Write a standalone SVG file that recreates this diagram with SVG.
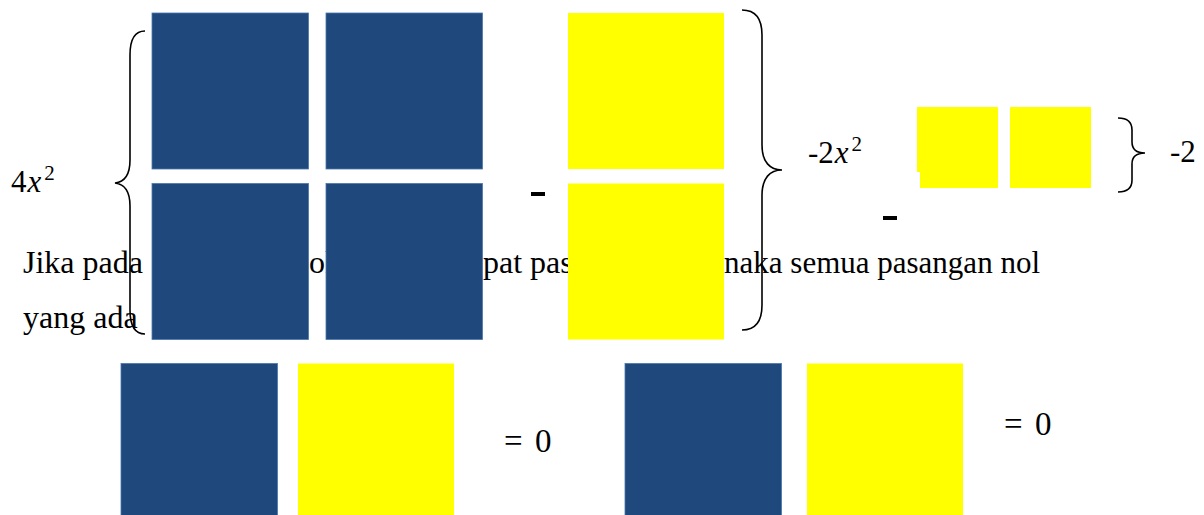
<svg xmlns="http://www.w3.org/2000/svg" width="1204" height="515" viewBox="0 0 1204 515">
<style>
.blue{fill:#1F497D;stroke:#4A78AE;stroke-width:0.8}
.yel{fill:#FFFF00}
.brace{fill:none;stroke:#000;stroke-width:1.6}
</style>
<rect width="1204" height="515" fill="#fff"/>
<g id="paragraph" font-family="'Liberation Serif','Times New Roman',serif" font-size="32" fill="#000">
<text x="23" y="273">Jika pada</text>
<text x="309" y="273">ok</text>
<text x="483" y="273">pat pasa</text>
<text x="1040" y="273" text-anchor="end" font-size="31">naka semua pasangan nol</text>
<text x="23" y="328">yang ada</text>
</g>
<g id="tiles-4x2">
<rect id="b1" class="blue" x="152" y="13" width="156.5" height="156"/>
<rect id="b2" class="blue" x="326" y="13" width="156.5" height="156"/>
<rect id="b3" class="blue" x="152" y="183.5" width="156.5" height="156"/>
<rect id="b4" class="blue" x="326" y="183.5" width="156.5" height="156"/>
</g>
<g id="tiles-neg2x2">
<rect id="y1" class="yel" x="568" y="13" width="156" height="156"/>
<rect id="y2" class="yel" x="568" y="183.5" width="156" height="156"/>
</g>
<g id="tiles-neg2">
<path id="s1" class="yel" d="M917,107 H998 V188 H920 V172 H917 Z"/>
<rect id="s2" class="yel" x="1010" y="107" width="81" height="81"/>
</g>
<g id="zero-pair-1">
<rect class="blue" x="121" y="363.5" width="156.5" height="155"/>
<rect class="yel" x="298" y="363.5" width="156" height="155"/>
<text x="504" y="452" font-family="'Liberation Serif','Times New Roman',serif" font-size="33" fill="#000">=<tspan x="535">0</tspan></text>
</g>
<g id="zero-pair-2">
<rect class="blue" x="625" y="363.5" width="156.5" height="155"/>
<rect class="yel" x="807" y="363.5" width="156" height="155"/>
<text x="1004" y="435" font-family="'Liberation Serif','Times New Roman',serif" font-size="33" fill="#000">=<tspan x="1035">0</tspan></text>
</g>
<g id="labels" font-family="'Liberation Serif','Times New Roman',serif" font-size="31" fill="#000">
<text x="11" y="192">4<tspan font-style="italic" dx="1">x</tspan><tspan font-size="21" dy="-12" dx="3">2</tspan></text>
<text x="808" y="163">-2<tspan font-style="italic" dx="1">x</tspan><tspan font-size="21" dy="-12" dx="3">2</tspan></text>
<text x="1170" y="162">-2</text>
<rect x="531" y="192" width="14" height="4" fill="#000"/>
<rect x="883" y="216" width="14" height="4" fill="#000"/>
</g>
<g id="connectors">
<path class="brace" d="M145,31 C134,31 130,40 130,55 V160 C130,175 124,182 115,183 C124,184 130,191 130,206 V310 C130,325 134,334 145,334"/>
<path class="brace" d="M742,10 C755,10 762,18 762,35 V145 C762,162 770,170 782,170 C770,170 762,178 762,195 V305 C762,322 755,330 742,330"/>
<path class="brace" d="M1118,118 C1127,118 1132,122 1132,130 V142 C1132,150 1137,153 1145,153 C1137,153 1132,156 1132,164 V180 C1132,188 1127,192 1118,192"/>
</g>
</svg>
